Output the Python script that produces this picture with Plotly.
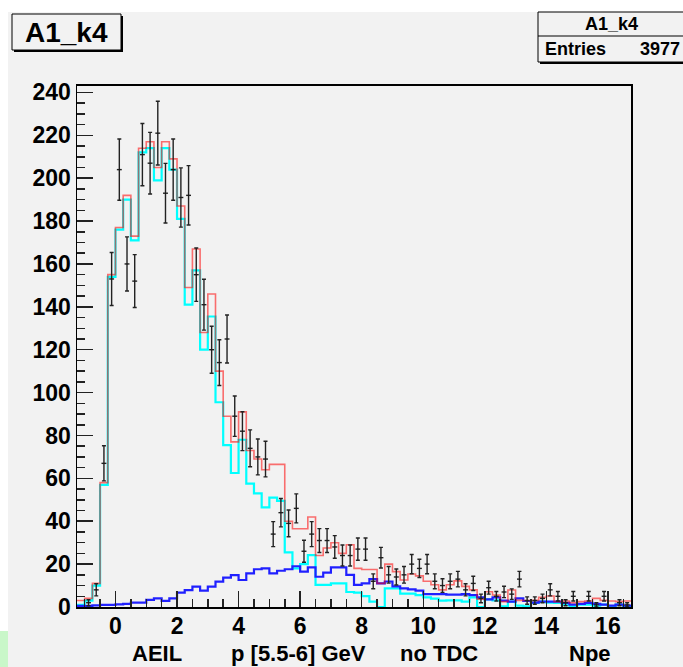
import plotly.graph_objects as go
import math

# ---------------- data ----------------
x_low = -1.25
bin_width = 0.25
n_bins = 72

total_fit = [3, 4, 11, 58, 155, 177, 192, 173, 214, 217, 205, 217, 209, 187, 149, 167,
             128, 146, 110, 89, 77, 91, 73, 69, 64, 66.5, 66.5, 40, 36.5, 36.5, 42, 24,
             27.5, 30, 25, 29, 18, 17.5, 17.5, 11, 20, 16.5, 12.6, 15.4, 14.5, 12, 10.4, 8,
             10.4, 12.2, 9.6, 8, 3.6, 7.1, 5.6, 2.5, 7.9, 3.1, 3, 3.1, 4.5, 5.1, 2.5, 2.8,
             2, 2.5, 2.8, 4, 3.1, 2.8, 2.5, 2.8]

signal = [1, 3, 10, 57, 154, 176, 190, 171, 212, 214, 199, 214, 204, 181, 141, 157,
          120, 135.5, 95.5, 75.5, 62.5, 78, 57.5, 53, 46.5, 51, 49.5, 25.5, 18, 20, 24.2, 10.3,
          10.3, 11, 11, 7, 6.7, 5.1, 2.5, 0, 8.7, 8.7, 6.2, 6.2, 5.5, 4.5, 3.9, 3,
          3.1, 3.1, 2.5, 4.5, 0, 3.6, 3.1, 0.3, 2.5, 0.6, 0.3, 1.9, 2.5, 2, 1.9, 1.1,
          0.3, 1.1, 1.1, 0.6, 1.1, 0.3, 1.1, 0.3]

background = [0.5, 0.5, 0.8, 1, 1, 1.2, 1.5, 2, 2, 3.3, 4, 2.9, 4, 6.7, 7.9, 9.5,
              7.6, 9.5, 11.8, 13.7, 14.9, 12.6, 15.7, 17.6, 18, 15.7, 16.9, 17.6, 19, 16.5, 18.5, 14.1,
              16, 18.5, 18.5, 15, 10.3, 11, 13, 11, 11.9, 9.6, 8.7, 8.2, 7.6, 6, 6, 6,
              5.8, 5.8, 6, 5.5, 4.5, 3.6, 4.5, 3, 2.5, 4, 2.8, 2, 2.5, 2.5, 2.5, 1.9,
              1.1, 1.5, 1.9, 1.5, 1.1, 0.6, 1.1, 0.6]

data_counts = [0, 2, 8, 67, 153, 204, 160, 152, 211, 207, 221, 193, 204, 191, 192, 155,
               141, 120, 114, 125, 89, 82, 74, 70, 69, 34, 44, 39, 46, 26, 34, 31,
               31, 28, 24, 24, 27, 27, 12, 23, 15, 14, 15, 20, 18, 20, 12, 10,
               12, 13, 8, 11, 4, 9, 5, 7, 6, 13, 3, 3, 4, 8, 5, 2,
               5, 0, 5, 1, 5, 0, 2, 1]

x_tick_vals = [0, 2, 4, 6, 8, 10, 12, 14, 16]
x_tick_labels = ["0", "2", "4", "6", "8", "10", "12", "14", "16"]
y_tick_vals = [0, 20, 40, 60, 80, 100, 120, 140, 160, 180, 200, 220, 240]
y_tick_labels = ["0", "20", "40", "60", "80", "100", "120", "140", "160", "180", "200", "220", "240"]

hist_title = "A1_k4"
entries = 3977
x_title_parts = ["AEIL", "p [5.5-6] GeV", "no TDC", "Npe"]

edges = [x_low + i * bin_width for i in range(n_bins + 1)]
centers = [x_low + (i + 0.5) * bin_width for i in range(n_bins)]

# ---------------- geometry ----------------
W, H = 683, 667
L, R, T, B = 77, 52, 86, 60
PW, PH = W - L - R, H - T - B
BG = "#f2f2f2"
FONT = "Liberation Sans, Arial, Helvetica, sans-serif"


def xp(px):
    return (px - L) / PW


def yp(py):
    return (H - B - py) / PH


fig = go.Figure()

fig.add_trace(go.Scatter(x=edges, y=signal + [signal[-1]], mode="lines",
                         line=dict(shape="hv", color="#00ffff", width=2.2),
                         hoverinfo="skip", showlegend=False))
fig.add_trace(go.Scatter(x=edges, y=background + [background[-1]], mode="lines",
                         line=dict(shape="hv", color="#2020ff", width=2.2),
                         hoverinfo="skip", showlegend=False))
fig.add_trace(go.Scatter(x=edges, y=total_fit + [total_fit[-1]], mode="lines",
                         line=dict(shape="hv", color="rgba(255,0,0,0.55)", width=1.6),
                         hoverinfo="skip", showlegend=False))

pts_x = [c for c, n in zip(centers, data_counts) if n > 0]
pts_y = [n for n in data_counts if n > 0]
err = [math.sqrt(n) for n in pts_y]
fig.add_trace(go.Scatter(x=pts_x, y=pts_y, mode="markers",
                         marker=dict(size=1, color="#111"),
                         error_y=dict(type="data", array=err, visible=True,
                                      color="#222", thickness=1.4, width=2),
                         error_x=dict(type="constant", value=0.08, visible=True,
                                      color="#222", thickness=1.4, width=0),
                         hoverinfo="skip", showlegend=False))

shapes = [
    dict(type="rect", xref="paper", yref="paper", x0=xp(8), x1=xp(W), y0=yp(12), y1=yp(H),
         fillcolor=BG, line=dict(width=0), layer="below"),
    dict(type="rect", xref="paper", yref="paper", x0=xp(0), x1=xp(8), y0=yp(631), y1=yp(H),
         fillcolor="#c9f7c9", line=dict(width=0), layer="below"),
    dict(type="rect", xref="paper", yref="paper", x0=xp(14), x1=xp(123), y0=yp(16), y1=yp(52),
         fillcolor="#000", line=dict(width=0)),
    dict(type="rect", xref="paper", yref="paper", x0=xp(12), x1=xp(121), y0=yp(14), y1=yp(50),
         fillcolor=BG, line=dict(color="#000", width=1)),
    dict(type="rect", xref="paper", yref="paper", x0=xp(540), x1=xp(690), y0=yp(14), y1=yp(64),
         fillcolor="#000", line=dict(width=0)),
    dict(type="rect", xref="paper", yref="paper", x0=xp(538), x1=xp(690), y0=yp(12), y1=yp(62),
         fillcolor=BG, line=dict(color="#000", width=1)),
    dict(type="line", xref="paper", yref="paper", x0=xp(538), x1=xp(690), y0=yp(36), y1=yp(36),
         line=dict(color="#000", width=1)),
]


def ann(text, x, y, size, anchor="center"):
    return dict(text=text, x=xp(x), y=yp(y), xref="paper", yref="paper", showarrow=False,
                xanchor=anchor, yanchor="middle", borderpad=0,
                font=dict(family=FONT, size=size, color="#000", weight="bold"))


annotations = [
    ann(hist_title, 66.5, 32, 28),
    ann(hist_title, 611, 24, 18),
    ann("Entries", 544, 49, 18, "left"),
    ann(str(entries), 681, 49, 18, "right"),
    ann(x_title_parts[0], 157, 653, 22),
    ann(x_title_parts[1], 298, 653, 22),
    ann(x_title_parts[2], 439, 653, 22),
    ann(x_title_parts[3], 590, 653, 22),
]

tick_font = dict(family=FONT, size=23, color="#000", weight="bold")

fig.update_layout(
    width=W, height=H,
    margin=dict(l=L, r=R, t=T, b=B, autoexpand=False),
    paper_bgcolor="white", plot_bgcolor=BG,
    hovermode=False,
    shapes=shapes, annotations=annotations,
    xaxis=dict(range=[x_low, x_low + n_bins * bin_width],
               tickmode="array", tickvals=x_tick_vals, ticktext=x_tick_labels,
               ticks="inside", ticklen=16, tickwidth=1.5, tickcolor="#222",
               minor=dict(dtick=0.5, tick0=0, ticks="inside", ticklen=8, tickwidth=1.5, tickcolor="#222"),
               showline=True, linecolor="#000", linewidth=2, mirror=True,
               showgrid=False, zeroline=False, tickfont=tick_font, ticklabelstandoff=-3),
    yaxis=dict(range=[0, 243],
               tickmode="array", tickvals=y_tick_vals, ticktext=y_tick_labels,
               ticks="inside", ticklen=16, tickwidth=1.5, tickcolor="#222",
               minor=dict(dtick=5, tick0=0, ticks="inside", ticklen=8, tickwidth=1.5, tickcolor="#222"),
               showline=True, linecolor="#000", linewidth=1.5, mirror=True,
               showgrid=False, zeroline=False, tickfont=tick_font, ticklabelstandoff=0),
)

fig.write_html(
    "out.html",
    config={"displayModeBar": False, "staticPlot": True},
    post_script="document.body.style.margin='0px';"
                "document.body.style.overflow='hidden';"
                "document.documentElement.style.overflow='hidden';",
)
